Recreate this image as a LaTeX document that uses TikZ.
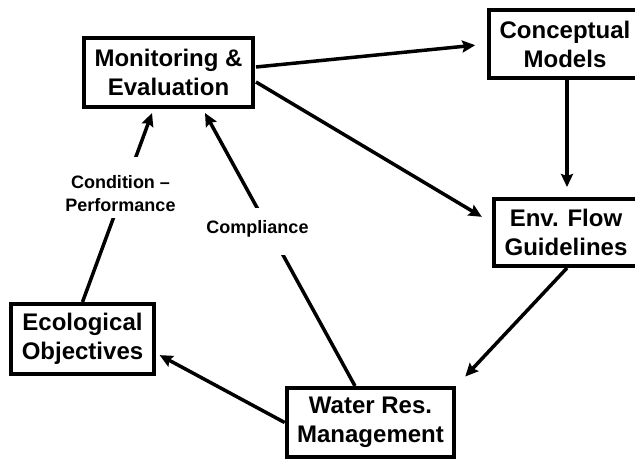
\documentclass[tikz,border=0pt]{standalone}
\usepackage{fontspec}
\setmainfont{Liberation Sans}
\usetikzlibrary{arrows.meta,calc}
\begin{document}
\begin{tikzpicture}[x=1pt,y=-1pt,
  box/.style={draw, line width=4pt, font=\fontsize{24}{29}\selectfont\bfseries,
    align=center, inner xsep=10.5pt, inner ysep=0pt, minimum height=69pt},
  lab/.style={fill=white, font=\fontsize{18}{23}\selectfont\bfseries,
    align=center, inner xsep=4pt, inner ysep=0pt},
  arr/.style={line width=3.5pt, -{Stealth[length=13pt,width=12pt,inset=2pt]}}]
\useasboundingbox (0,0) rectangle (635,460);
\clip (0,0) rectangle (635,460);
% boxes
\node[box] (mon) at (168.5,72.5) {Monitoring \&\\Evaluation};
\node[box, minimum height=68pt] (con) at (565,44) {Conceptual\\Models};
\node[box, minimum height=67pt] (env) at (566,232.5) {Env. Flow\\Guidelines};
\node[box, minimum height=70pt] (eco) at (82.5,339) {Ecological\\Objectives};
\node[box] (wat) at (370.5,422.5) {Water Res.\\Management};
% connectors
\draw[arr, shorten >=12pt] ($(mon.east)+(1,-5.5)$) -- (con.west);
\draw[arr, shorten >=12pt] ($(mon.east)+(1,9.5)$) -- ($(env.west)+(0,-9.5)$);
\draw[arr, shorten >=10pt] ($(con.south)+(2,0)$) -- ($(env.north)+(1,0)$);
\draw[arr, shorten >=13pt] ($(env.south)+(1,0)$) -- (wat.north east);
\draw[arr, shorten >=4.5pt] (wat.west) -- ($(eco.east)+(0,14)$);
\draw[arr, shorten >=4.3pt] (eco.north) -- ($(mon.south)+(-15,0)$);
\draw[arr, shorten >=4.6pt] ($(wat.north)+(-15.5,0)$) -- ($(mon.south)+(34.3,0)$);
% labels
\node[lab] (cp) at (120.5,187.5) {\rule{0pt}{31pt}Condition –\\Performance\rule[-7pt]{0pt}{7pt}};
\node[lab] (cm) at (257.5,231.5) {\rule[-22pt]{0pt}{47pt}Compliance};
\end{tikzpicture}
\end{document}
